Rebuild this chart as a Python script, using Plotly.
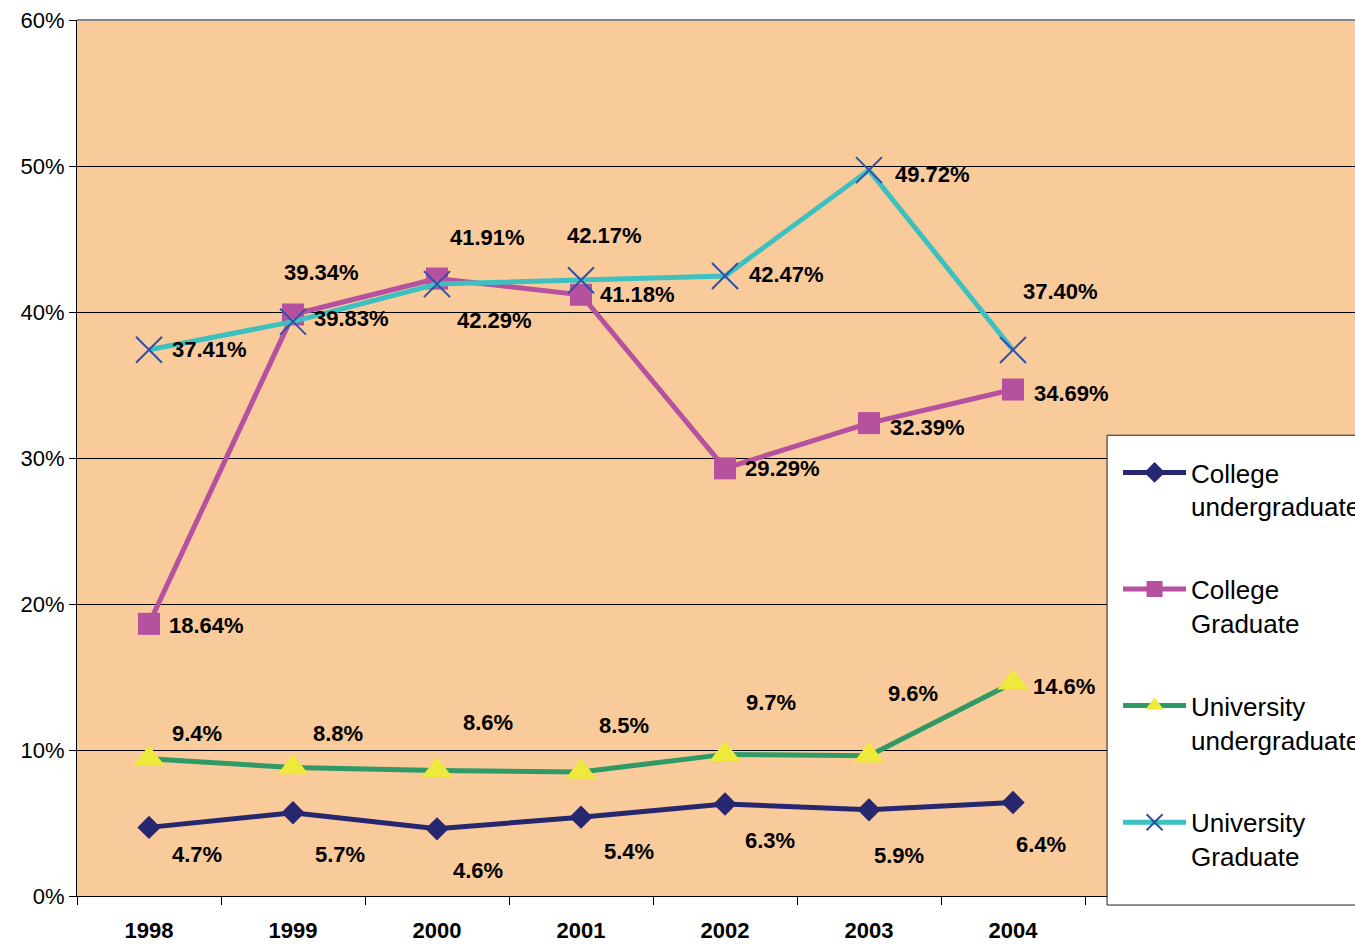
import plotly.graph_objects as go

years = ["1998", "1999", "2000", "2001", "2002", "2003", "2004"]
college_undergrad = [4.7, 5.7, 4.6, 5.4, 6.3, 5.9, 6.4]
college_grad = [18.64, 39.83, 42.29, 41.18, 29.29, 32.39, 34.69]
univ_undergrad = [9.4, 8.8, 8.6, 8.5, 9.7, 9.6, 14.6]
univ_grad = [37.41, 39.34, 41.91, 42.17, 42.47, 49.72, 37.40]

series_names = ["College<br>undergraduate", "College<br>Graduate",
                "University<br>undergraduate", "University<br>Graduate"]

# label offsets in pixels (dx right, dy down) -- styling only
off_cu = [(48, 27), (47, 42), (41, 42), (48, 34), (45, 36), (30, 46), (28, 42)]
off_cg = [(57, 2), (58, 4), (57, 42), (56, 0), (57, 0), (58, 4), (58, 4)]
off_uu = [(48, -25), (45, -34), (51, -48), (43, -46), (46, -52), (44, -62), (51, 4)]
off_ug = [(60, 0), (28, -49), (50, -47), (23, -45), (61, -1), (63, 4), (47, -58)]

NAVY = "#26276F"
MAG = "#B5519F"
GREEN = "#2F9A66"
CYAN = "#3DC0C0"
YEL = "#EEE93D"
XBLUE = "#3050A8"

fig = go.Figure()
fig.add_trace(go.Scatter(x=years, y=college_undergrad, name=series_names[0], mode="lines+markers",
                         line=dict(color=NAVY, width=5), legendgroup="a",
                         marker=dict(symbol="diamond", size=18, color=NAVY)))
fig.add_trace(go.Scatter(x=years, y=college_grad, name=series_names[1], mode="lines+markers",
                         line=dict(color=MAG, width=5), legendgroup="b",
                         marker=dict(symbol="square", size=22, color=MAG)))
fig.add_trace(go.Scatter(x=years, y=univ_undergrad, name=series_names[2], mode="lines+markers",
                         line=dict(color=GREEN, width=5), legendgroup="c",
                         marker=dict(symbol="triangle-up", size=27, color=YEL)))
fig.add_trace(go.Scatter(x=years, y=univ_grad, name=series_names[3], mode="lines+markers",
                         line=dict(color=CYAN, width=5), legendgroup="d",
                         marker=dict(symbol="x-thin", size=26, color=XBLUE,
                                     line=dict(color=XBLUE, width=2))))

annots = []
for vals, offs, fmt in [(college_undergrad, off_cu, "{:.1f}%"), (college_grad, off_cg, "{:.2f}%"),
                        (univ_undergrad, off_uu, "{:.1f}%"), (univ_grad, off_ug, "{:.2f}%")]:
    for i, (v, (dx, dy)) in enumerate(zip(vals, offs)):
        annots.append(dict(x=i, y=v, xref="x", yref="y", text="<b>" + fmt.format(v) + "</b>",
                           showarrow=False, xshift=dx, yshift=-dy,
                           font=dict(family="Liberation Sans, Arial", size=22, color="black")))

fig.update_layout(
    width=1355, height=944,
    margin=dict(l=77, r=0, t=20, b=48, autoexpand=False),
    paper_bgcolor="white", plot_bgcolor="#F9CA9A",
    font=dict(family="Liberation Sans, Arial", size=22, color="black"),
    annotations=annots,
    showlegend=True,
    legend=dict(x=0.8146, xanchor="left", y=0.5103, yanchor="top",
                bgcolor="rgba(0,0,0,0)", borderwidth=0,
                font=dict(family="Liberation Sans, Arial", size=26, color="black"),
                itemwidth=63, valign="top", tracegroupgap=46, traceorder="grouped"),
    shapes=[
        dict(type="rect", xref="paper", yref="paper", x0=0.806, x1=1.05, y0=-0.0103, y1=0.526,
             fillcolor="white", line=dict(color="#222222", width=1), layer="above"),
        dict(type="line", xref="paper", yref="paper", x0=0, x1=1, y0=1, y1=1,
             line=dict(color="#888888", width=2), layer="above"),
    ],
)
fig.update_xaxes(type="category", range=[-0.5, 8.375], showgrid=False,
                 showline=True, linecolor="black", linewidth=1,
                 ticks="outside", tickson="boundaries", ticklen=8, tickcolor="black",
                 tickfont=dict(family="Liberation Sans, Arial", size=22, color="black", weight="bold"),
                 ticklabelstandoff=15)
fig.update_yaxes(range=[0, 60], dtick=10, ticksuffix="%", showgrid=True, gridcolor="black", gridwidth=1,
                 showline=True, linecolor="black", linewidth=1, zeroline=False,
                 ticks="outside", ticklen=7, tickcolor="black",
                 tickfont=dict(family="Liberation Sans, Arial", size=22, color="black"))

fig.write_html("out.html", config={"displayModeBar": False},
               post_script="document.body.style.margin='0';")
